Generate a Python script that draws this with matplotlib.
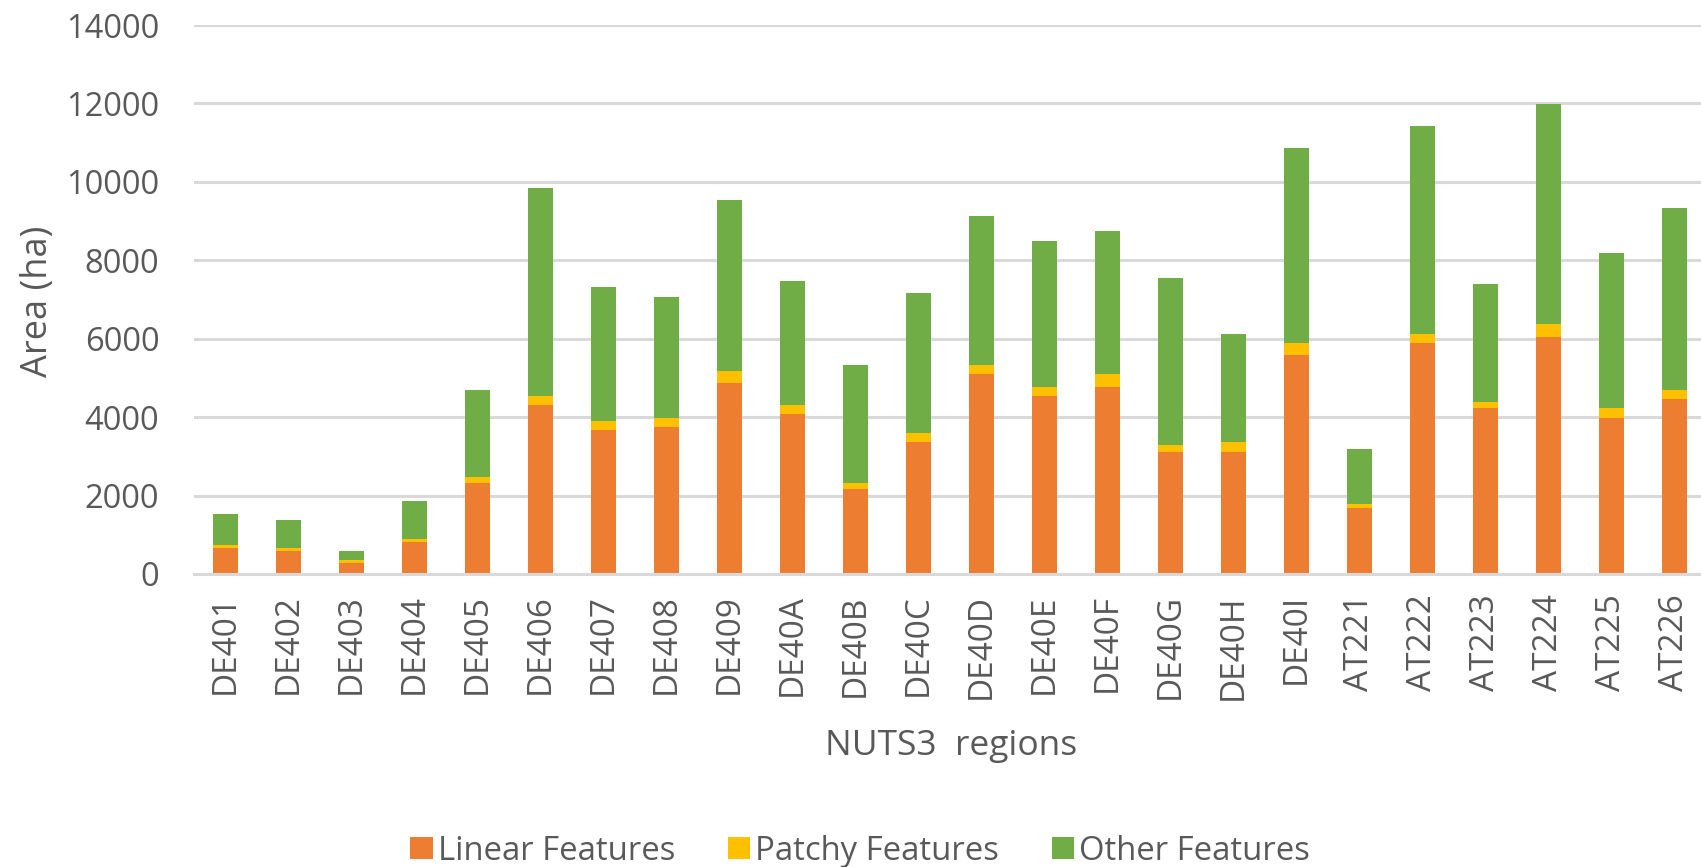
import matplotlib
matplotlib.use("Agg")
import matplotlib.pyplot as plt
import numpy as np

plt.rcParams['font.family'] = ['Open Sans', 'DejaVu Sans']

regions = ['DE401', 'DE402', 'DE403', 'DE404', 'DE405', 'DE406', 'DE407', 'DE408',
           'DE409', 'DE40A', 'DE40B', 'DE40C', 'DE40D', 'DE40E', 'DE40F', 'DE40G',
           'DE40H', 'DE40I', 'AT221', 'AT222', 'AT223', 'AT224', 'AT225', 'AT226']
linear = [663, 585, 283, 820, 2322, 4312, 3668, 3746, 4868, 4078, 2166, 3366,
          5102, 4537, 4771, 3112, 3112, 5580, 1678, 5893, 4234, 6039, 3980, 4459]
patchy = [78, 78, 78, 68, 146, 225, 234, 234, 303, 234, 156, 224,
          225, 234, 331, 176, 254, 313, 107, 224, 146, 332, 254, 234]
other = [791, 713, 224, 975, 2225, 5307, 3415, 3083, 4361, 3161, 3005, 3571,
         3805, 3717, 3639, 4253, 2751, 4966, 1405, 5307, 3015, 5609, 3951, 4653]
yticks = [0, 2000, 4000, 6000, 8000, 10000, 12000, 14000]

txt = '#595959'
grid_c = '#d9d9d9'

fig = plt.figure(figsize=(17.01, 8.67), dpi=100)
ax = fig.add_axes([194 / 1701, 1 - 574 / 867, 1512 / 1701, 549 / 867])

x = np.arange(len(regions))
lin = np.array(linear)
pat = np.array(patchy)
oth = np.array(other)
w = 0.4
ax.bar(x, lin, w, color='#ED7D31', label='Linear Features', zorder=3)
ax.bar(x, pat, w, bottom=lin, color='#FFC000', label='Patchy Features', zorder=3)
ax.bar(x, oth, w, bottom=lin + pat, color='#70AD47', label='Other Features', zorder=3)

ax.set_xlim(-0.5, len(regions) - 0.5)
ax.set_ylim(0, 14000)
ax.set_yticks(yticks)
ax.set_yticklabels([str(v) for v in yticks])
ax.grid(axis='y', color=grid_c, linewidth=2.2, zorder=0)
ax.set_axisbelow(True)

for s in ['top', 'right', 'left']:
    ax.spines[s].set_visible(False)
ax.spines['bottom'].set_color(grid_c)
ax.spines['bottom'].set_linewidth(2.2)
ax.spines['bottom'].set_zorder(4)

ax.set_xticks(x)
ax.set_xticklabels(regions, rotation=90, va='top', ha='center')
ax.tick_params(axis='x', length=0, pad=14.5, labelsize=24, labelcolor=txt)
ax.tick_params(axis='y', length=0, pad=25, labelsize=23.5, labelcolor=txt)

ax.set_xlabel('NUTS3  regions', fontsize=25.5, color=txt)
ax.xaxis.label.set_va('baseline')
ax.xaxis.set_label_coords(0.501, -0.3297)
ax.set_ylabel('Area (ha)', fontsize=26, color=txt)
ax.yaxis.label.set_va('baseline')
ax.yaxis.set_label_coords(-0.0972, 0.497)

leg = fig.legend(loc='center', bbox_to_anchor=(0.5056, 1 - 851 / 867), ncol=3,
                 frameon=False, fontsize=23.7, handlelength=0.68, handleheight=0.65,
                 handletextpad=0.15, columnspacing=1.6)
for t in leg.get_texts():
    t.set_color(txt)

fig.savefig('out.png', dpi=100)
